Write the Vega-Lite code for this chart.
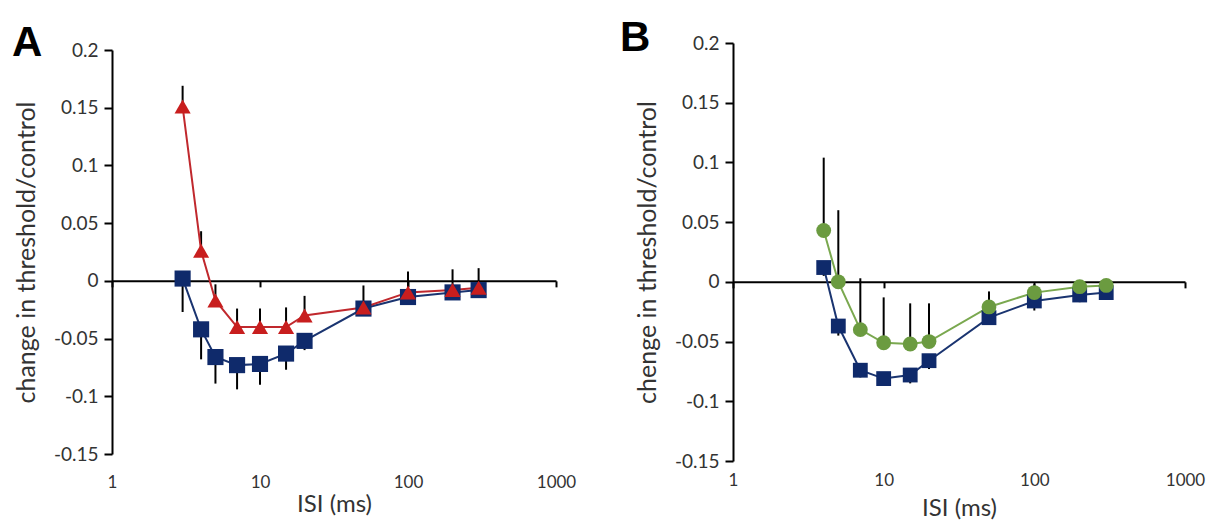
{
  "$schema": "https://vega.github.io/schema/vega-lite/v6.json",
  "autosize": "none",
  "padding": {"left": 112, "top": 43, "right": 1115, "bottom": 486},
  "background": "white",
  "config": {"font": "Lato", "view": {"stroke": null}},
  "datasets": {
    "A": [
      {"isi": 3, "series": "Optic Nerve Buffer", "value": 0.002, "err_lo": -0.027, "err_hi": 0.002},
      {"isi": 4, "series": "Optic Nerve Buffer", "value": -0.042, "err_lo": -0.068, "err_hi": -0.042},
      {"isi": 5, "series": "Optic Nerve Buffer", "value": -0.066, "err_lo": -0.089, "err_hi": -0.066},
      {"isi": 7, "series": "Optic Nerve Buffer", "value": -0.073, "err_lo": -0.094, "err_hi": -0.073},
      {"isi": 10, "series": "Optic Nerve Buffer", "value": -0.072, "err_lo": -0.09, "err_hi": -0.072},
      {"isi": 15, "series": "Optic Nerve Buffer", "value": -0.063, "err_lo": -0.077, "err_hi": -0.063},
      {"isi": 20, "series": "Optic Nerve Buffer", "value": -0.052, "err_lo": -0.06, "err_hi": -0.052},
      {"isi": 50, "series": "Optic Nerve Buffer", "value": -0.024, "err_lo": -0.03, "err_hi": -0.024},
      {"isi": 100, "series": "Optic Nerve Buffer", "value": -0.014, "err_lo": -0.018, "err_hi": -0.014},
      {"isi": 200, "series": "Optic Nerve Buffer", "value": -0.01, "err_lo": -0.013, "err_hi": -0.01},
      {"isi": 300, "series": "Optic Nerve Buffer", "value": -0.008, "err_lo": -0.011, "err_hi": -0.008},
      {"isi": 3, "series": "Isethionate", "value": 0.151, "err_lo": 0.151, "err_hi": 0.169},
      {"isi": 4, "series": "Isethionate", "value": 0.026, "err_lo": 0.026, "err_hi": 0.043},
      {"isi": 5, "series": "Isethionate", "value": -0.017, "err_lo": -0.017, "err_hi": -0.003},
      {"isi": 7, "series": "Isethionate", "value": -0.04, "err_lo": -0.04, "err_hi": -0.024},
      {"isi": 10, "series": "Isethionate", "value": -0.04, "err_lo": -0.04, "err_hi": -0.024},
      {"isi": 15, "series": "Isethionate", "value": -0.04, "err_lo": -0.04, "err_hi": -0.023},
      {"isi": 20, "series": "Isethionate", "value": -0.03, "err_lo": -0.03, "err_hi": -0.013},
      {"isi": 50, "series": "Isethionate", "value": -0.023, "err_lo": -0.023, "err_hi": -0.004},
      {"isi": 100, "series": "Isethionate", "value": -0.01, "err_lo": -0.01, "err_hi": 0.008},
      {"isi": 200, "series": "Isethionate", "value": -0.008, "err_lo": -0.008, "err_hi": 0.01},
      {"isi": 300, "series": "Isethionate", "value": -0.006, "err_lo": -0.006, "err_hi": 0.011}
    ],
    "B": [
      {"isi": 4, "series": "Optic Nerve Buffer", "value": 0.012, "err_lo": 0.005, "err_hi": 0.012},
      {"isi": 5, "series": "Optic Nerve Buffer", "value": -0.037, "err_lo": -0.045, "err_hi": -0.037},
      {"isi": 7, "series": "Optic Nerve Buffer", "value": -0.074, "err_lo": -0.08, "err_hi": -0.074},
      {"isi": 10, "series": "Optic Nerve Buffer", "value": -0.081, "err_lo": -0.087, "err_hi": -0.081},
      {"isi": 15, "series": "Optic Nerve Buffer", "value": -0.078, "err_lo": -0.085, "err_hi": -0.078},
      {"isi": 20, "series": "Optic Nerve Buffer", "value": -0.066, "err_lo": -0.073, "err_hi": -0.066},
      {"isi": 50, "series": "Optic Nerve Buffer", "value": -0.03, "err_lo": -0.036, "err_hi": -0.03},
      {"isi": 100, "series": "Optic Nerve Buffer", "value": -0.016, "err_lo": -0.024, "err_hi": -0.016},
      {"isi": 200, "series": "Optic Nerve Buffer", "value": -0.011, "err_lo": -0.017, "err_hi": -0.011},
      {"isi": 300, "series": "Optic Nerve Buffer", "value": -0.009, "err_lo": -0.015, "err_hi": -0.009},
      {"isi": 4, "series": "Bumetanide", "value": 0.043, "err_lo": 0.043, "err_hi": 0.104},
      {"isi": 5, "series": "Bumetanide", "value": 0.0, "err_lo": 0.0, "err_hi": 0.06},
      {"isi": 7, "series": "Bumetanide", "value": -0.04, "err_lo": -0.04, "err_hi": 0.003},
      {"isi": 10, "series": "Bumetanide", "value": -0.051, "err_lo": -0.051, "err_hi": -0.013},
      {"isi": 15, "series": "Bumetanide", "value": -0.052, "err_lo": -0.052, "err_hi": -0.018},
      {"isi": 20, "series": "Bumetanide", "value": -0.05, "err_lo": -0.05, "err_hi": -0.018},
      {"isi": 50, "series": "Bumetanide", "value": -0.021, "err_lo": -0.021, "err_hi": -0.008},
      {"isi": 100, "series": "Bumetanide", "value": -0.009, "err_lo": -0.009, "err_hi": -0.002},
      {"isi": 200, "series": "Bumetanide", "value": -0.004, "err_lo": -0.004, "err_hi": 0.0},
      {"isi": 300, "series": "Bumetanide", "value": -0.003, "err_lo": -0.003, "err_hi": 0.0}
    ]
  },
  "bounds": "flush",
  "center": true,
  "spacing": 177,
  "resolve": {"scale": {"color": "independent", "shape": "independent", "stroke": "independent"}, "legend": {"color": "independent", "shape": "independent"}},
  "hconcat": [
    {
      "width": 444,
      "height": 404,
      "title": {"text": "A", "anchor": "start", "frame": "group", "dx": -100, "dy": 28, "offset": 4, "fontSize": 42, "font": "Liberation Sans", "fontWeight": "bold", "color": "black"},
      "data": {"name": "A"},
      "encoding": {
        "x": {"field": "isi", "type": "quantitative", "scale": {"type": "log", "domain": [1, 1000], "nice": false},
          "axis": {"values": [1, 10, 100, 1000], "format": "d", "offset": -173.14, "tickSize": 6, "tickWidth": 2, "tickColor": "black", "domainColor": "black", "domainWidth": 2, "labelPadding": 188, "labelFontSize": 17, "labelColor": "#333333", "labelFlush": false, "title": "ISI (ms)", "titleFontSize": 24, "titleFontWeight": "normal", "titleColor": "#333333", "titlePadding": 12, "grid": false}}
      },
      "layer": [
        {
          "mark": {"type": "rule", "color": "black", "strokeWidth": 2},
          "encoding": {
            "y": {"field": "err_lo", "type": "quantitative", "scale": {"domain": [-0.15, 0.2], "nice": false, "zero": false},
              "axis": {"values": [-0.15, -0.1, -0.05, 0, 0.05, 0.1, 0.15, 0.2], "labelExpr": "'' + datum.value", "tickSize": 8, "tickWidth": 2, "tickColor": "black", "domainColor": "black", "domainWidth": 2, "labelPadding": 6, "labelFontSize": 19, "labelColor": "#333333", "title": "change in threshold/control", "titleFontSize": 25, "titleFontWeight": "normal", "titleColor": "#333333", "titlePadding": 14, "grid": false}},
            "y2": {"field": "err_hi"}
          }
        },
        {
          "mark": {"type": "line", "strokeWidth": 2},
          "encoding": {
            "y": {"field": "value", "type": "quantitative", "title": "change in threshold/control"},
            "stroke": {"field": "series", "type": "nominal", "scale": {"domain": ["Optic Nerve Buffer", "Isethionate"], "range": ["#1a3470", "#c0282d"]}, "legend": null}
          }
        },
        {
          "mark": {"type": "point", "filled": true, "opacity": 1, "size": 260},
          "encoding": {
            "y": {"field": "value", "type": "quantitative", "title": "change in threshold/control"},
            "color": {"field": "series", "type": "nominal", "scale": {"domain": ["Optic Nerve Buffer", "Isethionate"], "range": ["#0f2a6b", "#c81e1e"]},
              "legend": {"orient": "none", "legendX": 229, "legendY": -14, "title": null, "labelFontSize": 18, "labelColor": "#333333", "symbolSize": 144, "labelOffset": 21, "rowPadding": 5}},
            "shape": {"field": "series", "type": "nominal", "scale": {"domain": ["Optic Nerve Buffer", "Isethionate"], "range": ["square", "triangle-up"]},
              "legend": {"orient": "none", "legendX": 229, "legendY": -14, "title": null, "labelFontSize": 18, "labelColor": "#333333", "symbolSize": 144, "labelOffset": 21, "rowPadding": 5}}
          }
        }
      ]
    },
    {
      "width": 452,
      "height": 418,
      "title": {"text": "B", "anchor": "start", "frame": "group", "dx": -113, "dy": 30, "offset": 4, "fontSize": 42, "font": "Liberation Sans", "fontWeight": "bold", "color": "black"},
      "data": {"name": "B"},
      "encoding": {
        "x": {"field": "isi", "type": "quantitative", "scale": {"type": "log", "domain": [1, 1000], "nice": false},
          "axis": {"values": [1, 10, 100, 1000], "format": "d", "offset": -179.14, "tickSize": 6, "tickWidth": 2, "tickColor": "black", "domainColor": "black", "domainWidth": 2, "labelPadding": 185, "labelFontSize": 17, "labelColor": "#333333", "labelFlush": false, "title": "ISI (ms)", "titleFontSize": 24, "titleFontWeight": "normal", "titleColor": "#333333", "titlePadding": 15, "grid": false}}
      },
      "layer": [
        {
          "mark": {"type": "rule", "color": "black", "strokeWidth": 2},
          "encoding": {
            "y": {"field": "err_lo", "type": "quantitative", "scale": {"domain": [-0.15, 0.2], "nice": false, "zero": false},
              "axis": {"values": [-0.15, -0.1, -0.05, 0, 0.05, 0.1, 0.15, 0.2], "labelExpr": "'' + datum.value", "tickSize": 8, "tickWidth": 2, "tickColor": "black", "domainColor": "black", "domainWidth": 2, "labelPadding": 6, "labelFontSize": 19, "labelColor": "#333333", "title": "chenge in threshold/control", "titleFontSize": 25, "titleFontWeight": "normal", "titleColor": "#333333", "titlePadding": 14, "grid": false}},
            "y2": {"field": "err_hi"}
          }
        },
        {
          "mark": {"type": "line", "strokeWidth": 2},
          "encoding": {
            "y": {"field": "value", "type": "quantitative", "title": "chenge in threshold/control"},
            "stroke": {"field": "series", "type": "nominal", "scale": {"domain": ["Optic Nerve Buffer", "Bumetanide"], "range": ["#1a3470", "#7aa84f"]}, "legend": null}
          }
        },
        {
          "mark": {"type": "point", "filled": true, "opacity": 1, "size": 220},
          "encoding": {
            "y": {"field": "value", "type": "quantitative", "title": "chenge in threshold/control"},
            "color": {"field": "series", "type": "nominal", "scale": {"domain": ["Optic Nerve Buffer", "Bumetanide"], "range": ["#0f2a6b", "#6b9b40"]},
              "legend": {"orient": "none", "legendX": 231, "legendY": -20, "title": null, "labelFontSize": 18, "labelColor": "#333333", "symbolSize": 144, "labelOffset": 22, "rowPadding": 5}},
            "shape": {"field": "series", "type": "nominal", "scale": {"domain": ["Optic Nerve Buffer", "Bumetanide"], "range": ["square", "circle"]},
              "legend": {"orient": "none", "legendX": 231, "legendY": -20, "title": null, "labelFontSize": 18, "labelColor": "#333333", "symbolSize": 144, "labelOffset": 22, "rowPadding": 5}}
          }
        }
      ]
    }
  ]
}
